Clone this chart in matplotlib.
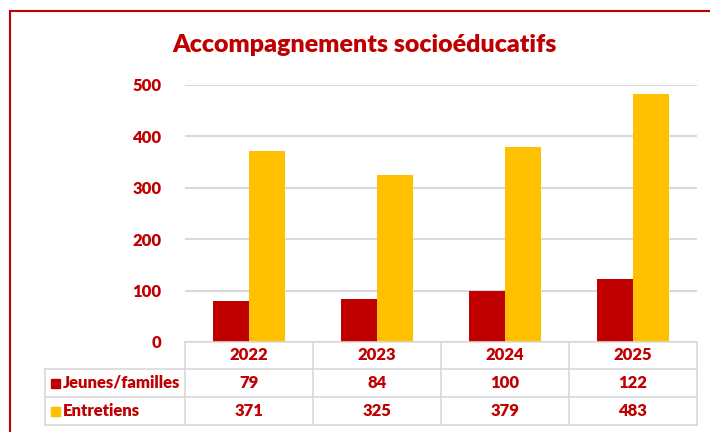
import matplotlib.pyplot as plt
import matplotlib.transforms as mtransforms
from matplotlib.lines import Line2D
from matplotlib.patches import Rectangle
import numpy as np

plt.rcParams['font.family'] = ['Lato', 'DejaVu Sans']

years = ['2022', '2023', '2024', '2025']
jeunes = [79, 84, 100, 122]
entretiens = [371, 325, 379, 483]
series_names = ['Jeunes/familles', 'Entretiens']

RED = '#C00000'
GOLD = '#FFC000'
GRID = '#d9d9d9'
WT = 'heavy'

W, H = 710, 432
fig = plt.figure(figsize=(W / 100, H / 100), dpi=100)
ax = fig.add_axes([185 / W, 1 - 342 / H, (697 - 185) / W, (342 - 85) / H])

x = np.arange(len(years))
bw = 0.283
ax.bar(x - bw / 2, jeunes, bw, color=RED, zorder=3)
ax.bar(x + bw / 2, entretiens, bw, color=GOLD, zorder=3)

ax.set_xlim(-0.5, len(years) - 0.5)
ax.set_ylim(0, 500)
ax.set_yticks(range(0, 501, 100))
ax.yaxis.grid(True, color=GRID, linewidth=1.5, zorder=0)
ax.set_xticks([])
for s in ax.spines.values():
    s.set_visible(False)
ax.tick_params(axis='y', length=0, pad=17, labelsize=12, labelcolor=RED)
for lab in ax.get_yticklabels():
    lab.set_fontweight(WT)

fig.text(365 / W, 1 - 45 / H, 'Accompagnements socioéducatifs', ha='center', va='center',
         fontsize=18, fontweight=WT, color=RED)

# data table below the chart
tr = mtransforms.blended_transform_factory(ax.transData, fig.transFigure)
fy = lambda p: 1 - p / H
rows_y = [342, 369, 397, 425]
left_px = 45
xl, xr = -0.5, len(years) - 0.5
# horizontal lines
fig.add_artist(Line2D([xl, xr], [fy(rows_y[0])] * 2, transform=tr, color=GRID, lw=1.2))
for yy in rows_y[1:]:
    fig.add_artist(Line2D([left_px / W, 697 / W], [fy(yy)] * 2, transform=fig.transFigure,
                          color=GRID, lw=1.2))
# vertical lines
for i in range(len(years) + 1):
    fig.add_artist(Line2D([i - 0.5] * 2, [fy(rows_y[0]), fy(rows_y[-1])], transform=tr,
                          color=GRID, lw=1.2))
fig.add_artist(Line2D([left_px / W] * 2, [fy(rows_y[1]), fy(rows_y[-1])],
                      transform=fig.transFigure, color=GRID, lw=1.2))

for i, yr in enumerate(years):
    fig.text(i, fy((rows_y[0] + rows_y[1]) / 2), yr, transform=tr, ha='center', va='center',
             fontsize=12, fontweight=WT, color=RED)
for r, (vals, col, name) in enumerate(zip([jeunes, entretiens], [RED, GOLD], series_names)):
    yc = fy((rows_y[r + 1] + rows_y[r + 2]) / 2)
    for i, v in enumerate(vals):
        fig.text(i, yc, str(v), transform=tr, ha='center', va='center',
                 fontsize=12, fontweight=WT, color=RED)
    fig.add_artist(Rectangle((51 / W, yc - 4.5 / H), 9 / W, 9 / H, transform=fig.transFigure,
                             color=col))
    fig.text(63 / W, yc, name, ha='left', va='center', fontsize=12, fontweight=WT, color=RED)

# chart border
fig.add_artist(Rectangle((10 / W, -0.1), 1.0, fy(11) + 0.1, transform=fig.transFigure,
                         fill=False, edgecolor=RED, lw=1.5, clip_on=False))

fig.savefig('out.png', dpi=100)
